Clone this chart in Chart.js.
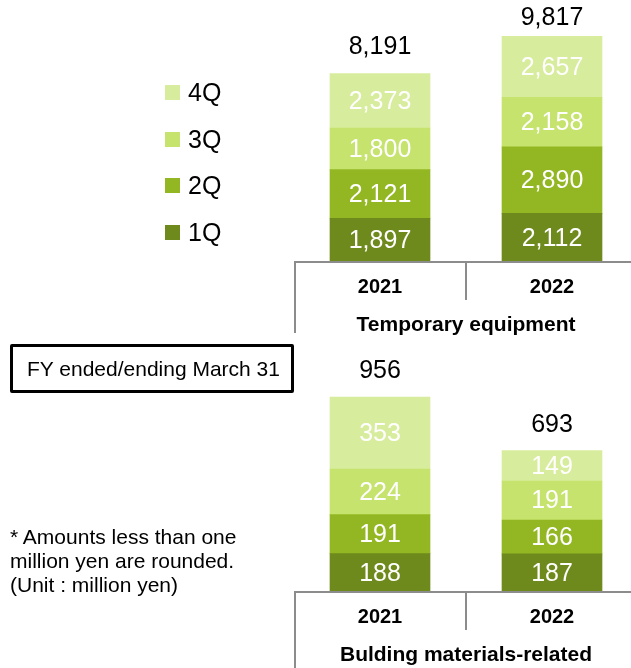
<!DOCTYPE html>
<html>
<head>
<meta charset="utf-8">
<script src="https://cdn.jsdelivr.net/npm/chart.js@4"></script>
<style>
  html, body { margin: 0; padding: 0; overflow: hidden; background: #fff; }
  body { width: 631px; height: 668px; position: relative; font-family: "Liberation Sans", Arial, sans-serif; }
  .wrap { position: absolute; left: 0; width: 638px; }
  #legend { position: absolute; left: 165px; top: 69px; }
  .item { height: 46.7px; display: flex; align-items: center; font-size: 25px; color: #000; }
  .item span.sw { width: 15px; height: 15px; display: inline-block; margin-right: 8px; }
  #fybox { position: absolute; left: 10px; top: 344px; height: 43px; width: 264px; border: 3px solid #000; border-radius: 2px;
           font-size: 21px; line-height: 43px; padding-left: 14px; white-space: nowrap; }
  #note { position: absolute; left: 10px; top: 525px; font-size: 21px; line-height: 24px; color: #000; white-space: nowrap; }
</style>
</head>
<body>
<div class="wrap" style="top:0;height:340px"><canvas id="tempChart"></canvas></div>
<div class="wrap" style="top:340px;height:328px"><canvas id="bldChart"></canvas></div>
<div id="legend"></div>
<div id="fybox">FY ended/ending March 31</div>
<div id="note">* Amounts less than one<br>million yen are rounded.<br>(Unit : million yen)</div>
<script>
const years = ["2021", "2022"];
const quarters = ["1Q", "2Q", "3Q", "4Q"];
const quarterColors = ["#6e8a1c", "#93b723", "#c6e36e", "#d8ec9e"];

const tempQ1 = [1897, 2112];
const tempQ2 = [2121, 2890];
const tempQ3 = [1800, 2158];
const tempQ4 = [2373, 2657];
const tempTotals = [8191, 9817];

const bldQ1 = [188, 187];
const bldQ2 = [191, 166];
const bldQ3 = [224, 191];
const bldQ4 = [353, 149];
const bldTotals = [956, 693];

const FONT = '"Liberation Sans", Arial, sans-serif';

// legend, 4Q on top
let legend = document.getElementById("legend");
for (let i = quarters.length - 1; i >= 0; i--) {
    let div = document.createElement("div");
    div.className = "item";
    div.innerHTML = `<span class="sw" style="background:${quarterColors[i]}"></span>${quarters[i]}`;
    legend.appendChild(div);
}

function fmt(v) {
    return v.toLocaleString("en-US");
}

const labelPlugin = {
    id: "labels",
    afterDatasetsDraw(chart) {
        let ctx = chart.ctx;
        ctx.save();
        ctx.textAlign = "center";
        ctx.textBaseline = "middle";
        ctx.font = "25px " + FONT;
        ctx.fillStyle = "#fff";
        chart.data.datasets.forEach((ds, di) => {
            chart.getDatasetMeta(di).data.forEach((el, i) => {
                ctx.fillText(fmt(ds.data[i]), el.x, (el.y + el.base) / 2 + 1);
            });
        });
        let totals = chart.options.plugins.labels.totals;
        let last = chart.getDatasetMeta(chart.data.datasets.length - 1).data;
        ctx.fillStyle = "#000";
        last.forEach((el, i) => {
            ctx.fillText(fmt(totals[i]), el.x, Math.max(el.y - 26, 18));
        });
        ctx.restore();
    },
    afterDraw(chart) {
        let ctx = chart.ctx;
        let area = chart.chartArea;
        let x = chart.scales.x;
        let opts = chart.options.plugins.labels;
        ctx.save();
        ctx.strokeStyle = "#8c8c8c";
        ctx.lineWidth = 2;
        ctx.beginPath();
        ctx.moveTo(area.left, area.bottom);
        ctx.lineTo(area.right, area.bottom);
        ctx.moveTo(area.left + 1, area.bottom);
        ctx.lineTo(area.left + 1, area.bottom + opts.leftLen);
        let mid = (x.getPixelForValue(0) + x.getPixelForValue(1)) / 2;
        ctx.moveTo(mid, area.bottom);
        ctx.lineTo(mid, area.bottom + 38);
        ctx.stroke();

        ctx.fillStyle = "#000";
        ctx.textAlign = "center";
        ctx.textBaseline = "middle";
        ctx.font = "bold 20px " + FONT;
        years.forEach((y, i) => {
            ctx.fillText(y, x.getPixelForValue(i), area.bottom + 25);
        });
        ctx.font = "bold 21px " + FONT;
        ctx.fillText(opts.title, (area.left + area.right) / 2, area.bottom + 63);
        ctx.restore();
    }
};

function makeChart(id, series, totals, max, pad, title, leftLen) {
    let ctx = document.getElementById(id).getContext("2d");
    return new Chart(ctx, {
        type: "bar",
        data: {
            labels: years,
            datasets: series.map((s, i) => ({
                label: quarters[i],
                data: s,
                backgroundColor: quarterColors[i],
                borderWidth: 0,
                barThickness: 100
            }))
        },
        options: {
            responsive: true,
            maintainAspectRatio: false,
            animation: false,
            layout: { padding: pad },
            scales: {
                x: { stacked: true, display: false, offset: true },
                y: { stacked: true, display: false, min: 0, max: max }
            },
            plugins: {
                legend: { display: false },
                tooltip: { enabled: false },
                labels: { totals: totals, title: title, leftLen: leftLen }
            }
        },
        plugins: [labelPlugin]
    });
}

makeChart("tempChart", [tempQ1, tempQ2, tempQ3, tempQ4], tempTotals, 10000,
    { left: 294, right: 0, top: 32, bottom: 78 }, "Temporary equipment", 71);
makeChart("bldChart", [bldQ1, bldQ2, bldQ3, bldQ4], bldTotals, 1000,
    { left: 294, right: 0, top: 48, bottom: 76 }, "Bulding materials-related", 80);
</script>
</body>
</html>
